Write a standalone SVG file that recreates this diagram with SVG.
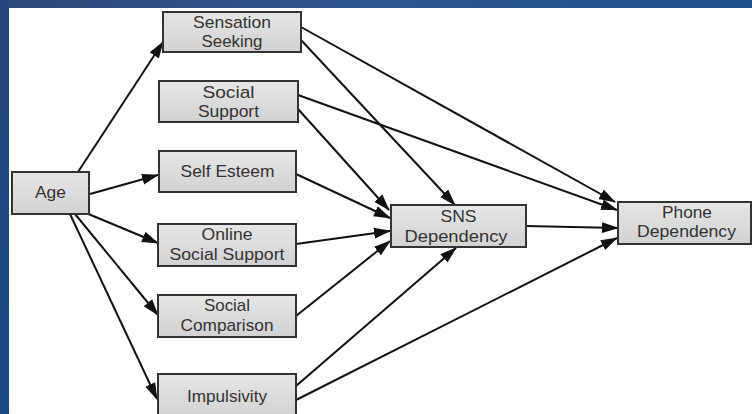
<svg xmlns="http://www.w3.org/2000/svg" width="752" height="414" viewBox="0 0 752 414">
<defs>
<linearGradient id="bgTop" x1="0" y1="0" x2="1" y2="0">
<stop offset="0" stop-color="#2c4677"/>
<stop offset="0.5" stop-color="#2f5690"/>
<stop offset="1" stop-color="#1f4e8c"/>
</linearGradient>
<linearGradient id="bgLeft" x1="0" y1="0" x2="0" y2="1">
<stop offset="0" stop-color="#24467c"/>
<stop offset="1" stop-color="#1b4a88"/>
</linearGradient>
<linearGradient id="boxFill" x1="0" y1="0" x2="0" y2="1">
<stop offset="0" stop-color="#e6e6e6"/>
<stop offset="1" stop-color="#d2d2d2"/>
</linearGradient>
<marker id="arr" markerUnits="userSpaceOnUse" markerWidth="17" markerHeight="12" refX="16" refY="5.5" orient="auto" viewBox="0 0 17 11">
<path d="M0,0 L17,5.5 L0,11 Z" fill="#111"/>
</marker>
<style>
.box{fill:url(#boxFill);stroke:#333;stroke-width:2}
.lbl{font-family:"Liberation Sans",Arial,sans-serif;font-size:17px;fill:#333;text-anchor:middle}
.edge{stroke:#111;stroke-width:2;fill:none;marker-end:url(#arr)}
</style>
</defs>
<rect x="0" y="0" width="752" height="414" fill="#ffffff"/>
<rect x="0" y="0" width="752" height="8" fill="url(#bgTop)"/>
<rect x="0" y="0" width="9" height="414" fill="url(#bgLeft)"/>

<g id="connectors">
<line class="edge" x1="78" y1="172" x2="163" y2="42"/>
<line class="edge" x1="90" y1="194" x2="158" y2="175"/>
<line class="edge" x1="86" y1="213" x2="158" y2="243"/>
<line class="edge" x1="75" y1="214" x2="158" y2="315"/>
<line class="edge" x1="70" y1="214" x2="157" y2="399"/>
<line class="edge" x1="301" y1="27" x2="615" y2="202"/>
<line class="edge" x1="301" y1="40" x2="455" y2="205"/>
<line class="edge" x1="298" y1="95" x2="617" y2="210"/>
<line class="edge" x1="298" y1="109" x2="389" y2="210"/>
<line class="edge" x1="296" y1="174" x2="390" y2="218"/>
<line class="edge" x1="296" y1="244" x2="390" y2="231"/>
<line class="edge" x1="296" y1="316" x2="390" y2="241"/>
<line class="edge" x1="296" y1="386" x2="456" y2="248"/>
<line class="edge" x1="296" y1="400" x2="617" y2="238"/>
<line class="edge" x1="526" y1="226" x2="618" y2="228"/>
</g>

<g id="age">
<rect class="box" x="12" y="172" width="77" height="42"/>
<text class="lbl" x="50.5" y="198" textLength="31" lengthAdjust="spacingAndGlyphs">Age</text>
</g>
<g id="sensation-seeking">
<rect class="box" x="163" y="12" width="138" height="40"/>
<text class="lbl" x="232" y="28" textLength="78" lengthAdjust="spacingAndGlyphs">Sensation</text>
<text class="lbl" x="232" y="47" textLength="61" lengthAdjust="spacingAndGlyphs">Seeking</text>
</g>
<g id="social-support">
<rect class="box" x="159" y="81" width="139" height="41"/>
<text class="lbl" x="228.5" y="98" textLength="52" lengthAdjust="spacingAndGlyphs">Social</text>
<text class="lbl" x="228.5" y="117" textLength="61" lengthAdjust="spacingAndGlyphs">Support</text>
</g>
<g id="self-esteem">
<rect class="box" x="159" y="151" width="137" height="41"/>
<text class="lbl" x="227.5" y="177" textLength="94" lengthAdjust="spacingAndGlyphs">Self Esteem</text>
</g>
<g id="online-social-support">
<rect class="box" x="158" y="224" width="138" height="42"/>
<text class="lbl" x="227" y="240" textLength="51" lengthAdjust="spacingAndGlyphs">Online</text>
<text class="lbl" x="227" y="260" textLength="115" lengthAdjust="spacingAndGlyphs">Social Support</text>
</g>
<g id="social-comparison">
<rect class="box" x="158" y="295" width="138" height="42"/>
<text class="lbl" x="227" y="311" textLength="46" lengthAdjust="spacingAndGlyphs">Social</text>
<text class="lbl" x="227" y="331" textLength="93" lengthAdjust="spacingAndGlyphs">Comparison</text>
</g>
<g id="impulsivity">
<rect class="box" x="158" y="374" width="138" height="44"/>
<text class="lbl" x="227" y="402" textLength="80" lengthAdjust="spacingAndGlyphs">Impulsivity</text>
</g>
<g id="sns-dependency">
<rect class="box" x="391" y="205" width="135" height="42"/>
<text class="lbl" x="458.5" y="222" textLength="36" lengthAdjust="spacingAndGlyphs">SNS</text>
<text class="lbl" x="456" y="242" textLength="103" lengthAdjust="spacingAndGlyphs">Dependency</text>
</g>
<g id="phone-dependency">
<rect class="box" x="618" y="202" width="133" height="42"/>
<text class="lbl" x="687" y="218" textLength="50" lengthAdjust="spacingAndGlyphs">Phone</text>
<text class="lbl" x="686.5" y="237" textLength="99" lengthAdjust="spacingAndGlyphs">Dependency</text>
</g>
</svg>
